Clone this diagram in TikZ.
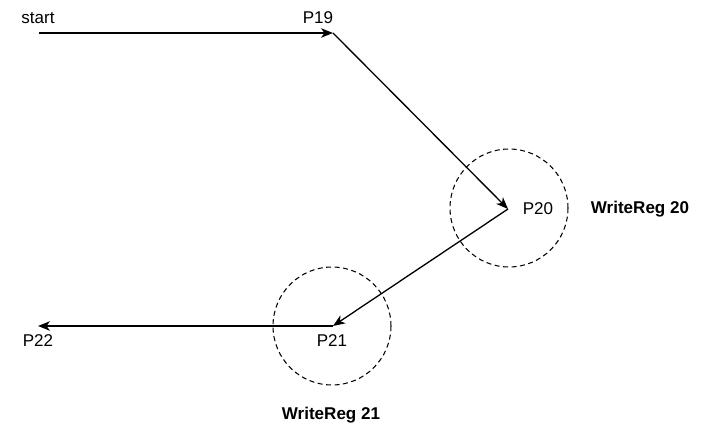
\documentclass[tikz,border=0pt]{standalone}
\usepackage{fontspec}
\setmainfont{Liberation Sans}
\usetikzlibrary{arrows.meta, positioning}

\begin{document}
\begin{tikzpicture}[x=0.02cm, y=-0.02cm, font=\fontsize{9.7}{11}\selectfont,
    >={Stealth[length=0.24cm, width=0.19cm, inset=0.07cm]},
    link/.style={->, line width=0.75pt},
    regcircle/.style={circle, draw, line width=0.6pt, dash pattern=on 0.1cm off 0.07cm, minimum size=2.36cm}]
        \useasboundingbox (0,0) rectangle (721,429);

        \coordinate (start) at (39,33);
        \coordinate (p19) at (333,33);
        \coordinate (p20) at (508,209);
        \coordinate (p21) at (333,326);
        \coordinate (p22) at (38,326);

        \node (reg20) [regcircle] at (509,208) {};
        \node (reg21) [regcircle] at (332,326) {};

        \draw [link] (start) -- (p19);
        \draw [link] (p19) -- (p20);
        \draw [link] (p20) -- (p21);
        \draw [link] (p21) -- (p22);

        \node (startlbl) at (38,18) {start};
        \node (p19lbl) at (318,18) {P19};
        \node (p20lbl) at (538,209) {P20};
        \node (p21lbl) at (332,341) {P21};
        \node (p22lbl) at (38,341) {P22};
        \node (reg20lbl) [font=\fontsize{9.7}{11}\selectfont\bfseries] at (640,209) {WriteReg 20};
        \node (reg21lbl) [font=\fontsize{9.7}{11}\selectfont\bfseries] at (331,415) {WriteReg 21};
    \end{tikzpicture}
\end{document}
